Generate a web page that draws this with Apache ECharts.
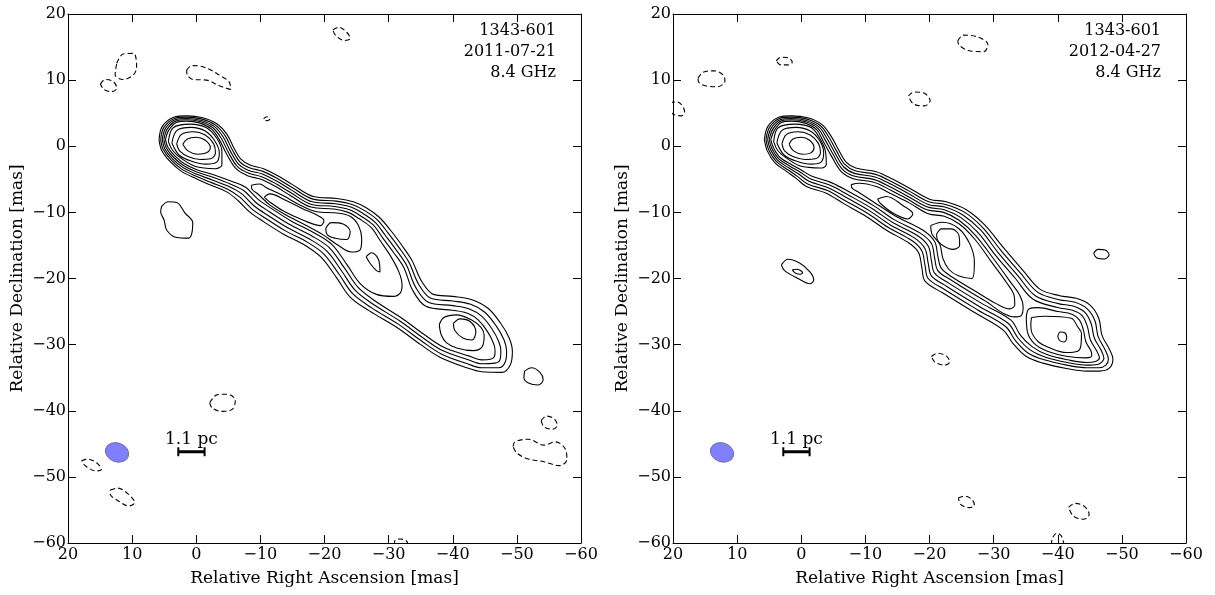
<!DOCTYPE html>
<html><head><meta charset="utf-8">
<script src="https://cdn.jsdelivr.net/npm/echarts@6/dist/echarts.min.js"></script>
<style>html,body{margin:0;padding:0;background:#fff}#c{width:1215px;height:595px}</style>
</head><body><div id="c"></div>
<script>
// ---------- axis ticks / labels ----------
const axisMin = -60, axisMax = 20, axisStep = 10;
const xTitle = 'Relative Right Ascension [mas]';
const yTitle = 'Relative Declination [mas]';
const label1 = ['1343-601', '2011-07-21', '8.4 GHz'];
const label2 = ['1343-601', '2012-04-27', '8.4 GHz'];
const scaleBarText = '1.1 pc';

// ---------- beams, scale bars (RA, Dec in mas) ----------
const beam1 = [[12.35, -46.3]];
const beam2 = [[12.35, -46.3]];
const bar1 = [[2.8, -46.2], [-1.3, -46.2]];
const bar2 = [[2.8, -46.2], [-1.3, -46.2]];
const barText1 = [[0.75, -44.3]];
const barText2 = [[0.75, -44.3]];

// ================= PANEL 1 (2011-07-21) =================
const p1C1 = [[2.1,0.3],[1.4,1.1],[0,1.35],[-1.4,0.9],[-2.2,-0.2],[-1.6,-1.0],[-0.2,-1.2],[1.3,-0.7],[2.1,0.3]];
const p1C2 = [[3.05,0.4],[2.3,1.8],[0.5,2.2],[-1.4,1.7],[-2.7,0.4],[-3.0,-1.0],[-2.2,-1.9],[-0.6,-2.0],[1.2,-1.6],[2.6,-0.7],[3.05,0.4]];
const p1C3 = [[3.8,0.5],[3.0,2.4],[0.8,2.85],[-1.4,2.3],[-2.9,0.8],[-3.6,-1.0],[-3.2,-2.4],[-1.5,-2.7],[0.6,-2.3],[2.6,-1.4],[3.8,0.5]];
const p1C4 = [[4.35,0.7],[3.6,2.8],[1.0,3.35],[-1.6,2.8],[-3.2,1.2],[-4.0,-0.8],[-4.0,-2.8],[-3.0,-3.4],[-1.2,-3.3],[0.5,-2.9],[2.4,-1.8],[3.7,-0.6],[4.35,0.7]];
const p1J1 = [[5.8,1.0],[5.3,3.0],[3.5,4.4],[1.5,4.6],[-1.0,4.3],[-3.2,3.4],[-4.8,1.8],[-5.9,-0.3],[-7.0,-2.0],[-8.4,-2.85],[-10.5,-3.4],[-12.8,-4.5],[-15.0,-5.8],[-18.3,-7.6],[-21.9,-7.9],[-24.5,-8.4],[-26.5,-9.3],[-28.5,-10.7],[-30.3,-12.7],[-32.0,-14.9],[-33.6,-17.2],[-35.2,-20.5],[-37.0,-22.4],[-40.0,-22.7],[-43.0,-23.2],[-45.5,-24.5],[-47.5,-26.8],[-48.8,-29.0],[-49.3,-31.0],[-49.0,-33.0],[-47.7,-34.2],
  [-44.5,-34.1],[-42.2,-33.5],[-38.0,-31.9],[-35.0,-30.0],[-31.3,-27.4],[-27.0,-24.9],[-24.0,-22.8],[-21.9,-19.9],[-19.5,-16.8],[-17.0,-15.0],[-13.6,-13.3],[-10.5,-11.4],[-8.4,-10.0],[-6.5,-8.2],[-4.75,-6.9],[-2.3,-5.9],[0,-4.9],[2.3,-3.8],[4.1,-2.3],[5.4,-0.6],[5.8,1.0]];
const p1J2 = [[5.55,1.0],[5.05,2.85],[3.4,4.2],[1.5,4.4],[-0.9,4.1],[-3.0,3.2],[-4.5,1.6],[-5.6,-0.5],[-6.8,-2.35],[-8.3,-3.25],[-10.4,-3.8],[-12.7,-4.9],[-14.9,-6.2],[-18.2,-8.0],[-21.8,-8.3],[-24.3,-8.8],[-26.2,-9.7],[-28.2,-11.1],[-29.9,-13.1],[-31.6,-15.3],[-33.2,-17.6],[-34.7,-20.9],[-36.6,-23.0],[-40.0,-23.4],[-42.8,-23.9],[-45.0,-25.1],[-46.8,-27.2],[-48.0,-29.3],[-48.4,-31.0],[-48.2,-32.6],[-47.2,-33.5],
  [-44.5,-33.5],[-42.3,-32.9],[-38.2,-31.4],[-35.2,-29.5],[-31.5,-26.9],[-27.3,-24.4],[-24.4,-22.3],[-22.3,-19.4],[-19.9,-16.3],[-17.3,-14.5],[-13.9,-12.8],[-10.8,-10.9],[-8.7,-9.5],[-6.8,-7.7],[-4.9,-6.5],[-2.4,-5.5],[0,-4.55],[2.2,-3.5],[3.9,-2.1],[5.15,-0.5],[5.55,1.0]];
const p1J3 = [[5.3,1.0],[4.8,2.7],[3.3,4.0],[1.5,4.2],[-0.8,3.9],[-2.8,3.0],[-4.2,1.4],[-5.3,-0.7],[-6.6,-2.7],[-8.2,-3.65],[-10.3,-4.2],[-12.6,-5.3],[-14.8,-6.6],[-18.1,-8.4],[-21.7,-8.7],[-24.1,-9.2],[-25.9,-10.1],[-27.9,-11.5],[-29.5,-13.5],[-31.2,-15.7],[-32.8,-18.0],[-34.2,-21.3],[-36.2,-23.6],[-40.0,-24.1],[-42.6,-24.6],[-44.5,-25.7],[-46.1,-27.6],[-47.2,-29.6],[-47.5,-31.0],[-47.4,-32.2],[-46.6,-32.8],
  [-44.5,-32.9],[-42.4,-32.3],[-38.4,-30.9],[-35.4,-29.0],[-31.7,-26.4],[-27.6,-23.9],[-24.8,-21.8],[-22.7,-18.9],[-20.3,-15.8],[-17.6,-14.0],[-14.2,-12.3],[-11.1,-10.4],[-9.0,-9.0],[-7.1,-7.2],[-5.1,-6.1],[-2.5,-5.1],[0,-4.2],[2.1,-3.2],[3.7,-1.9],[4.9,-0.4],[5.3,1.0]];
const p1J4 = [[5.05,1.0],[4.55,2.55],[3.2,3.8],[1.5,4.0],[-0.7,3.7],[-2.6,2.8],[-3.9,1.2],[-5.0,-0.9],[-6.4,-3.05],[-8.1,-4.05],[-10.2,-4.6],[-12.5,-5.7],[-14.7,-7.0],[-18.0,-8.8],[-21.6,-9.1],[-23.9,-9.6],[-25.6,-10.5],[-27.6,-11.9],[-29.1,-13.9],[-30.8,-16.1],[-32.4,-18.4],[-33.7,-21.7],[-35.8,-24.2],[-40.0,-24.8],[-42.4,-25.3],[-44.0,-26.3],[-45.4,-28.0],[-46.4,-29.9],[-46.6,-31.0],[-46.5,-31.8],[-45.9,-32.2],
  [-44.5,-32.3],[-42.5,-31.7],[-38.6,-30.4],[-35.6,-28.5],[-31.9,-25.9],[-27.9,-23.4],[-25.2,-21.3],[-23.1,-18.4],[-20.7,-15.3],[-17.9,-13.5],[-14.5,-11.8],[-11.4,-9.9],[-9.3,-8.5],[-7.4,-6.7],[-5.3,-5.7],[-2.6,-4.7],[0,-3.85],[2.0,-2.9],[3.5,-1.7],[4.65,-0.3],[5.05,1.0]];
const p1J5 = [[4.8,1.0],[4.3,2.4],[3.1,3.6],[1.5,3.8],[-0.6,3.5],[-2.4,2.6],[-3.6,1.0],[-4.7,-1.1],[-6.2,-3.4],[-8.0,-4.45],[-10.1,-5.0],[-12.4,-6.1],[-14.6,-7.4],[-17.9,-9.2],[-21.5,-9.5],[-23.7,-10.0],[-25.3,-10.9],[-27.3,-12.3],[-28.7,-14.3],[-30.3,-16.6],[-31.6,-19.0],[-32.1,-21.0],[-31.8,-22.2],[-30.7,-22.7],[-28.1,-22.4],[-25.6,-20.8],[-23.5,-17.9],[-21.1,-14.8],[-18.2,-13.0],[-14.8,-11.3],[-11.7,-9.4],[-9.6,-8.0],[-7.7,-6.2],[-5.5,-5.3],[-2.7,-4.3],[0,-3.5],[1.9,-2.6],[3.3,-1.5],[4.4,-0.2],[4.8,1.0]];
const p1M6 = [[-8.6,-5.9],[-9.9,-5.7],[-11.0,-6.3],[-13.6,-7.5],[-16.0,-8.8],[-18.8,-9.9],[-22.0,-10.1],[-24.0,-10.6],[-25.3,-12.0],[-25.8,-14.0],[-25.6,-15.6],[-24.2,-16.0],[-22.0,-14.9],[-19.8,-13.4],[-17.0,-11.9],[-14.0,-10.4],[-11.5,-8.9],[-9.7,-7.3],[-8.7,-6.5],[-8.6,-5.9]];
const p1M7 = [[-10.6,-7.7],[-11.5,-7.2],[-14.0,-8.2],[-16.5,-9.4],[-18.8,-10.4],[-19.9,-11.2],[-19.4,-12.0],[-16.7,-11.2],[-13.6,-9.8],[-11.3,-8.3],[-10.6,-7.7]];
const p1K8 = [[-20.2,-12.4],[-21.1,-11.55],[-22.9,-11.75],[-24.0,-12.9],[-23.5,-14.1],[-21.65,-13.9],[-20.45,-13.4],[-20.2,-12.4]];
const p1T7 = [[-26.5,-16.7],[-27.35,-16.1],[-28.4,-17.1],[-28.65,-19.0],[-28.1,-18.8],[-27.1,-17.7],[-26.5,-16.7]];
const p1F5 = [[-37.9,-27.0],[-38.6,-25.9],[-40.6,-25.5],[-43.0,-26.3],[-44.4,-27.4],[-44.9,-28.6],[-44.6,-30.3],[-43.2,-30.9],[-40.6,-30.5],[-39.0,-29.7],[-38.2,-28.5],[-37.9,-27.0]];
const p1F6 = [[-40.1,-26.8],[-41.15,-26.1],[-42.7,-26.5],[-43.6,-28.05],[-43.0,-29.3],[-41.65,-29.05],[-40.35,-27.9],[-40.1,-26.8]];
const p1B1 = [[5.4,-9.1],[4.35,-8.4],[3.05,-8.5],[1.75,-10.1],[0.55,-11.55],[0.7,-13.2],[1.25,-13.9],[3.05,-13.8],[4.6,-12.7],[5.0,-11.2],[5.55,-9.9],[5.4,-9.1]];
const p1B2 = [[-51.2,-34.0],[-52.3,-33.5],[-53.6,-34.2],[-54.1,-35.3],[-53.3,-36.1],[-51.8,-35.8],[-51.1,-35.0],[-51.2,-34.0]];
// negative (dashed) contours, panel 1
const p1N1 = [[12.4,12.55],[11.4,13.95],[9.8,14.05],[9.3,12.0],[9.8,10.8],[11.4,10.1],[12.65,10.8],[12.4,12.55]];
const p1N2 = [[14.95,9.4],[14.2,10.1],[12.9,9.75],[12.4,8.75],[13.2,8.25],[14.4,8.6],[14.95,9.4]];
const p1N3 = [[1.5,11.5],[0.7,12.2],[-1.1,12.0],[-3.2,11.0],[-5.25,9.5],[-5.35,8.6],[-3.7,9.1],[-1.6,10.0],[0.5,10.1],[1.4,10.8],[1.5,11.5]];
const p1N4 = [[-10.5,4.15],[-11.0,4.45],[-11.5,4.15],[-11.0,3.85],[-10.5,4.15]];
const p1N5 = [[-21.3,17.6],[-22.2,18.0],[-23.5,17.2],[-24.0,16.3],[-23.1,16.0],[-21.7,16.8],[-21.3,17.6]];
const p1N6 = [[-2.1,-38.8],[-3.2,-37.6],[-4.8,-37.5],[-6.1,-38.4],[-5.6,-39.8],[-4.0,-40.1],[-2.5,-39.6],[-2.1,-38.8]];
const p1N7 = [[17.9,-47.6],[17.0,-47.3],[15.5,-47.9],[14.8,-48.9],[15.6,-49.1],[17.2,-48.4],[17.9,-47.6]];
const p1N8 = [[13.4,-52.0],[12.3,-51.7],[10.6,-52.6],[9.6,-53.9],[10.5,-54.4],[12.2,-53.6],[13.4,-52.6],[13.4,-52.0]];
const p1N9 = [[-30.9,-60.3],[-31.0,-59.6],[-31.8,-59.4],[-32.8,-59.7],[-33.0,-60.3]];
const p1N10 = [[-53.8,-41.5],[-54.6,-40.8],[-55.8,-41.2],[-56.3,-42.2],[-55.5,-42.8],[-54.2,-42.4],[-53.8,-41.5]];
const p1N11 = [[-49.4,-45.4],[-49.7,-44.7],[-51.8,-44.3],[-54.2,-45.2],[-56.0,-44.7],[-57.5,-45.7],[-57.8,-47.4],[-56.6,-48.3],[-54.2,-47.7],[-51.8,-47.3],[-50.0,-46.4],[-49.4,-45.4]];

// ================= PANEL 2 (2012-04-27) =================
const p2C1 = [[1.9,0.3],[1.3,1.1],[0,1.35],[-1.3,0.9],[-2.0,-0.2],[-1.5,-1.0],[-0.2,-1.2],[1.2,-0.7],[1.9,0.3]];
const p2C2 = [[3.0,0.4],[2.3,1.8],[0.5,2.2],[-1.4,1.7],[-2.7,0.4],[-3.0,-1.0],[-2.2,-1.9],[-0.6,-2.0],[1.2,-1.6],[2.6,-0.7],[3.0,0.4]];
const p2C3 = [[3.8,0.5],[3.0,2.4],[0.8,2.85],[-1.4,2.3],[-2.9,0.8],[-3.5,-1.0],[-3.1,-2.4],[-1.5,-2.7],[0.6,-2.3],[2.6,-1.4],[3.8,0.5]];
const p2C4 = [[4.3,0.7],[3.6,2.8],[1.0,3.35],[-1.6,2.8],[-3.0,1.0],[-3.8,-0.9],[-3.9,-2.8],[-3.0,-3.3],[-1.2,-3.2],[0.4,-2.9],[2.3,-1.8],[3.7,-0.6],[4.3,0.7]];
const p2J1 = [[5.75,1.0],[5.2,3.0],[3.5,4.4],[1.5,4.6],[-1.0,4.3],[-3.2,3.3],[-4.6,1.6],[-5.8,-0.5],[-7.0,-2.4],[-8.5,-3.3],[-11.7,-3.85],[-14.3,-5.0],[-16.9,-6.35],[-20.0,-8.0],[-22.6,-8.4],[-25.75,-9.6],[-28.6,-11.9],[-31.5,-15.3],[-34.6,-18.8],[-37.2,-21.6],[-40.3,-22.6],[-42.9,-23.0],[-45.0,-24.0],[-46.4,-26.0],[-46.9,-28.6],[-48.0,-30.6],[-48.6,-32.2],[-48.0,-33.6],[-46.5,-34.0],
  [-44.5,-34.0],[-41.35,-33.6],[-37.7,-32.8],[-35.1,-31.8],[-33.0,-29.8],[-31.5,-27.8],[-27.3,-25.3],[-22.1,-22.2],[-19.3,-20.4],[-18.8,-18.3],[-18.3,-16.1],[-16.9,-14.7],[-13.3,-12.7],[-10.2,-10.65],[-6.5,-8.6],[-3.9,-7.1],[-0.8,-6.1],[0.75,-4.9],[2.3,-3.8],[4.1,-2.5],[5.3,-0.7],[5.75,1.0]];
const p2J2 = [[5.5,1.0],[4.95,2.85],[3.4,4.2],[1.5,4.4],[-0.9,4.1],[-3.0,3.1],[-4.3,1.4],[-5.5,-0.7],[-6.8,-2.75],[-8.4,-3.7],[-11.6,-4.25],[-14.2,-5.4],[-16.8,-6.75],[-19.9,-8.4],[-22.5,-8.8],[-25.5,-10.0],[-28.3,-12.3],[-31.1,-15.7],[-34.2,-19.2],[-36.9,-22.1],[-40.2,-23.2],[-42.7,-23.6],[-44.6,-24.6],[-45.8,-26.4],[-46.3,-28.8],[-47.4,-30.8],[-47.9,-32.2],[-47.5,-33.1],[-46.4,-33.5],
  [-44.5,-33.5],[-41.4,-33.1],[-37.9,-32.3],[-35.4,-31.3],[-33.4,-29.4],[-31.9,-27.3],[-27.6,-24.8],[-22.4,-21.7],[-19.8,-20.0],[-19.3,-18.0],[-18.8,-15.8],[-17.3,-14.3],[-13.6,-12.3],[-10.5,-10.25],[-6.8,-8.2],[-4.1,-6.7],[-1.0,-5.7],[0.6,-4.55],[2.1,-3.55],[3.9,-2.3],[5.05,-0.6],[5.5,1.0]];
const p2J3 = [[5.25,1.0],[4.7,2.7],[3.3,4.0],[1.5,4.2],[-0.8,3.9],[-2.8,2.9],[-4.0,1.2],[-5.2,-0.9],[-6.6,-3.1],[-8.3,-4.1],[-11.5,-4.65],[-14.1,-5.8],[-16.7,-7.15],[-19.8,-8.8],[-22.4,-9.2],[-25.2,-10.4],[-28.0,-12.7],[-30.7,-16.1],[-33.8,-19.6],[-36.5,-22.6],[-40.1,-23.8],[-42.5,-24.2],[-44.2,-25.1],[-45.2,-26.8],[-45.7,-29.0],[-46.8,-30.9],[-47.2,-32.1],[-46.9,-32.6],[-46.2,-33.0],
  [-44.5,-33.1],[-41.5,-32.7],[-38.1,-31.9],[-35.7,-30.8],[-33.8,-29.0],[-32.3,-26.8],[-27.9,-24.3],[-22.7,-21.2],[-20.3,-19.6],[-19.8,-17.7],[-19.3,-15.5],[-17.7,-13.9],[-13.9,-11.9],[-10.8,-9.85],[-7.1,-7.8],[-4.3,-6.3],[-1.2,-5.3],[0.4,-4.2],[1.9,-3.3],[3.7,-2.1],[4.8,-0.5],[5.25,1.0]];
const p2J4 = [[5.0,1.0],[4.45,2.55],[3.2,3.8],[1.5,4.0],[-0.7,3.7],[-2.6,2.7],[-3.7,1.0],[-4.9,-1.1],[-6.4,-3.45],[-8.2,-4.5],[-11.4,-5.05],[-14.0,-6.2],[-16.6,-7.55],[-19.7,-9.2],[-22.3,-9.6],[-24.9,-10.8],[-27.6,-13.1],[-30.3,-16.5],[-33.4,-20.0],[-36.1,-23.1],[-40.0,-24.4],[-42.3,-24.8],[-43.8,-25.6],[-44.6,-27.2],[-45.1,-29.3],[-46.1,-31.0],[-46.5,-32.0],[-46.0,-32.5],
  [-44.5,-32.7],[-41.6,-32.3],[-38.3,-31.5],[-36.0,-30.3],[-34.2,-28.6],[-32.7,-26.3],[-28.2,-23.8],[-23.0,-20.7],[-20.8,-19.2],[-20.3,-17.3],[-19.8,-15.1],[-18.1,-13.5],[-14.2,-11.5],[-11.1,-9.45],[-7.4,-7.4],[-4.5,-5.9],[-1.4,-4.9],[0.2,-3.9],[1.7,-3.05],[3.5,-1.9],[4.55,-0.4],[5.0,1.0]];
const p2J5 = [[4.75,1.0],[4.2,2.4],[3.1,3.6],[1.5,3.8],[-0.6,3.5],[-2.4,2.5],[-3.4,0.8],[-4.6,-1.3],[-6.2,-3.8],[-8.1,-4.9],[-11.3,-5.45],[-13.9,-6.6],[-16.5,-7.95],[-19.6,-9.6],[-22.2,-10.0],[-24.6,-11.2],[-27.2,-13.5],[-29.9,-16.9],[-32.6,-20.5],[-34.1,-22.6],[-34.6,-24.3],[-34.3,-25.6],[-33.3,-25.8],[-28.5,-23.3],[-23.3,-20.2],[-21.3,-18.8],[-20.8,-16.9],[-20.3,-14.7],[-18.5,-13.1],[-14.5,-11.1],[-11.4,-9.05],[-7.7,-7.0],[-4.7,-5.5],[-1.6,-4.5],[0.0,-3.6],[1.5,-2.8],[3.3,-1.7],[4.3,-0.3],[4.75,1.0]];
const p2M6 = [[-7.8,-5.8],[-9.0,-5.6],[-11.7,-6.1],[-14.0,-7.2],[-16.9,-8.6],[-19.8,-10.2],[-22.3,-10.6],[-24.7,-11.8],[-27.1,-14.1],[-29.6,-17.4],[-32.0,-20.6],[-33.2,-22.6],[-33.3,-24.0],[-32.5,-24.6],[-30.4,-23.8],[-27.3,-22.0],[-23.4,-19.7],[-21.8,-18.4],[-21.3,-16.6],[-20.8,-14.4],[-19.0,-12.7],[-14.6,-10.5],[-11.4,-8.5],[-9.0,-7.0],[-7.9,-6.3],[-7.8,-5.8]];
const p2E7 = [[-11.9,-8.0],[-13.3,-7.6],[-15.9,-9.0],[-17.4,-10.2],[-16.6,-11.0],[-14.3,-10.1],[-12.4,-8.7],[-11.9,-8.0]];
const p2M7 = [[-20.2,-12.0],[-22.0,-11.5],[-24.5,-12.4],[-26.3,-14.8],[-27.0,-17.5],[-26.6,-20.0],[-24.5,-19.6],[-23.0,-18.6],[-22.1,-17.0],[-21.6,-14.8],[-20.4,-13.3],[-20.2,-12.0]];
const p2K8 = [[-21.1,-13.3],[-21.9,-12.5],[-23.4,-12.5],[-24.6,-13.5],[-24.7,-15.0],[-23.6,-15.6],[-22.2,-15.1],[-21.3,-14.3],[-21.1,-13.3]];
const p2F6 = [[-35.1,-25.8],[-35.5,-24.6],[-37.0,-24.4],[-40.0,-25.0],[-42.2,-25.4],[-43.4,-26.3],[-44.0,-27.8],[-44.4,-29.6],[-45.2,-31.0],[-45.3,-31.7],[-44.4,-32.0],[-41.6,-31.8],[-38.4,-31.0],[-36.4,-29.9],[-35.3,-28.2],[-35.1,-25.8]];
const p2F7 = [[-35.9,-25.9],[-38.0,-25.7],[-42.1,-26.0],[-43.1,-27.3],[-43.7,-28.3],[-43.6,-30.2],[-43.1,-31.0],[-41.35,-31.2],[-38.5,-30.4],[-37.0,-29.6],[-36.0,-28.3],[-35.8,-27.0],[-35.9,-25.9]];
const p2F8 = [[-40.0,-28.8],[-40.4,-28.1],[-41.1,-28.2],[-41.4,-29.0],[-41.0,-29.6],[-40.3,-29.4],[-40.0,-28.8]];
const p2B1 = [[3.1,-17.95],[2.05,-17.1],[0.2,-17.7],[-1.35,-19.0],[-1.95,-20.2],[-1.35,-20.8],[0.5,-20.0],[2.6,-18.8],[3.1,-17.95]];
const p2B1i = [[1.4,-18.7],[0.7,-18.6],[-0.2,-19.1],[0.1,-19.35],[0.9,-19.2],[1.4,-18.7]];
const p2B2 = [[-45.6,-16.2],[-46.3,-15.6],[-47.4,-15.7],[-48.0,-16.4],[-47.3,-17.05],[-46.1,-16.9],[-45.6,-16.2]];
// negative (dashed) contours, panel 2
const p2N1 = [[16.1,10.3],[15.3,11.2],[13.6,11.4],[12.2,10.8],[11.9,9.9],[13.0,9.0],[14.8,9.1],[16.0,9.7],[16.1,10.3]];
const p2N2 = [[20.5,6.6],[19.4,6.7],[18.6,6.2],[18.2,5.2],[18.7,4.6],[19.9,4.8],[20.5,5.4]];
const p2N3 = [[3.9,12.9],[3.2,13.45],[2.1,13.4],[1.4,12.7],[2.0,12.3],[3.2,12.3],[3.9,12.9]];
const p2N4 = [[-24.4,15.9],[-25.3,16.8],[-27.3,16.6],[-29.1,15.4],[-28.5,14.3],[-26.4,14.4],[-24.7,15.2],[-24.4,15.9]];
const p2N5 = [[-16.7,7.6],[-17.6,8.2],[-19.2,8.0],[-20.1,6.9],[-19.2,6.1],[-17.5,6.4],[-16.7,7.6]];
const p2N6 = [[-20.3,-31.8],[-21.2,-31.3],[-22.6,-31.7],[-23.15,-32.6],[-22.4,-33.1],[-20.9,-32.7],[-20.3,-31.8]];
const p2N7 = [[-24.5,-53.2],[-25.4,-52.9],[-26.6,-53.4],[-27.0,-54.3],[-26.2,-54.65],[-24.9,-54.2],[-24.5,-53.2]];
const p2N8 = [[-41.7,-54.6],[-42.7,-54.0],[-44.2,-54.5],[-44.9,-55.7],[-44.0,-56.4],[-42.4,-55.9],[-41.7,-54.6]];
const p2N9 = [[-39.0,-60.3],[-39.2,-59.2],[-39.9,-58.5],[-40.6,-59.0],[-41.0,-60.3]];

const p1Solid = [p1C1,p1C2,p1C3,p1C4,p1J1,p1J2,p1J3,p1J4,p1J5,p1M6,p1M7,p1K8,p1T7,p1F5,p1F6,p1B1,p1B2];
const p1Dashed = [p1N1,p1N2,p1N3,p1N4,p1N5,p1N6,p1N7,p1N8,p1N9,p1N10,p1N11];
const p2Solid = [p2C1,p2C2,p2C3,p2C4,p2J1,p2J2,p2J3,p2J4,p2J5,p2M6,p2E7,p2M7,p2K8,p2F6,p2F7,p2F8,p2B1,p2B1i,p2B2];
const p2Dashed = [p2N1,p2N2,p2N3,p2N4,p2N5,p2N6,p2N7,p2N8,p2N9];

// ---------- chart ----------
const FONT = 'DejaVu Serif';
const fmt = v => String(v).replace('-', '\u2212');

function xAx(grid, pos, withLabels) {
  return {
    gridIndex: grid, type: 'value', min: axisMin, max: axisMax, interval: axisStep, inverse: true, position: pos,
    axisLine: { onZero: false, lineStyle: { color: '#000', width: 1 } },
    axisTick: { inside: true, length: 8, lineStyle: { color: '#000' } },
    axisLabel: { show: withLabels, formatter: fmt, fontFamily: FONT, fontSize: 16, color: '#000', margin: 4, showMinLabel: true, showMaxLabel: true },
    splitLine: { show: false },
    name: withLabels ? xTitle : '', nameLocation: 'middle', nameGap: 27,
    nameTextStyle: { fontFamily: FONT, fontSize: 17, color: '#000' }
  };
}
function yAx(grid, pos, withLabels) {
  return {
    gridIndex: grid, type: 'value', min: axisMin, max: axisMax, interval: axisStep, position: pos,
    axisLine: { onZero: false, lineStyle: { color: '#000', width: 1 } },
    axisTick: { inside: true, length: 8, lineStyle: { color: '#000' } },
    axisLabel: { show: withLabels, formatter: fmt, fontFamily: FONT, fontSize: 16, color: '#000', margin: 2, showMinLabel: true, showMaxLabel: true },
    splitLine: { show: false },
    name: withLabels ? yTitle : '', nameLocation: 'middle', nameGap: 42, nameRotate: 90,
    nameTextStyle: { fontFamily: FONT, fontSize: 17, color: '#000' }
  };
}
function contour(data, ax, dashed) {
  return {
    type: 'line', xAxisIndex: ax, yAxisIndex: ax, data: data, symbol: 'none', showSymbol: false,
    smooth: 0.35, silent: true, animation: false, clip: true, z: 3,
    lineStyle: { color: '#000', width: 1.1, type: dashed ? [5, 3] : 'solid' }
  };
}
function extras(ax, beam, bar, barText) {
  return [
    { type: 'scatter', xAxisIndex: ax, yAxisIndex: ax, data: beam, symbol: 'circle', symbolSize: [24, 19], symbolRotate: -20,
      itemStyle: { color: '#7f7fff', opacity: 1, borderColor: '#6a6a8a', borderWidth: 0.8 }, silent: true, animation: false, z: 4 },
    { type: 'line', xAxisIndex: ax, yAxisIndex: ax, data: bar, symbol: 'rect', symbolSize: [2, 9], showSymbol: true,
      itemStyle: { color: '#000' }, lineStyle: { color: '#000', width: 3 }, silent: true, animation: false, z: 4 },
    { type: 'scatter', xAxisIndex: ax, yAxisIndex: ax, data: barText, symbolSize: 1, silent: true, animation: false,
      itemStyle: { color: 'rgba(0,0,0,0)', opacity: 1 }, z: 5,
      label: { show: true, position: 'inside', formatter: scaleBarText, fontFamily: FONT, fontSize: 17, color: '#000', textBorderWidth: 0, opacity: 1 } }
  ];
}

const series = [];
p1Solid.forEach(d => series.push(contour(d, 0, false)));
p1Dashed.forEach(d => series.push(contour(d, 0, true)));
p2Solid.forEach(d => series.push(contour(d, 2, false)));
p2Dashed.forEach(d => series.push(contour(d, 2, true)));
extras(0, beam1, bar1, barText1).forEach(s => series.push(s));
extras(2, beam2, bar2, barText2).forEach(s => series.push(s));

const chart = echarts.init(document.getElementById('c'), null, { renderer: 'canvas' });
chart.setOption({
  animation: false,
  backgroundColor: '#fff',
  grid: [
    { left: 68, top: 14, width: 513, height: 529 },
    { left: 673, top: 14, width: 513, height: 529 }
  ],
  xAxis: [xAx(0, 'bottom', true), xAx(0, 'top', false), xAx(1, 'bottom', true), xAx(1, 'top', false)],
  yAxis: [yAx(0, 'left', true), yAx(0, 'right', false), yAx(1, 'left', true), yAx(1, 'right', false)],
  graphic: [
    { type: 'text', right: 1215 - 556, top: 20, style: { text: label1.join('\n'), font: '16px "' + FONT + '"', textAlign: 'right', lineHeight: 21, fill: '#000' } },
    { type: 'text', right: 1215 - 1161, top: 20, style: { text: label2.join('\n'), font: '16px "' + FONT + '"', textAlign: 'right', lineHeight: 21, fill: '#000' } }
  ],
  series: series
});
</script></body></html>
